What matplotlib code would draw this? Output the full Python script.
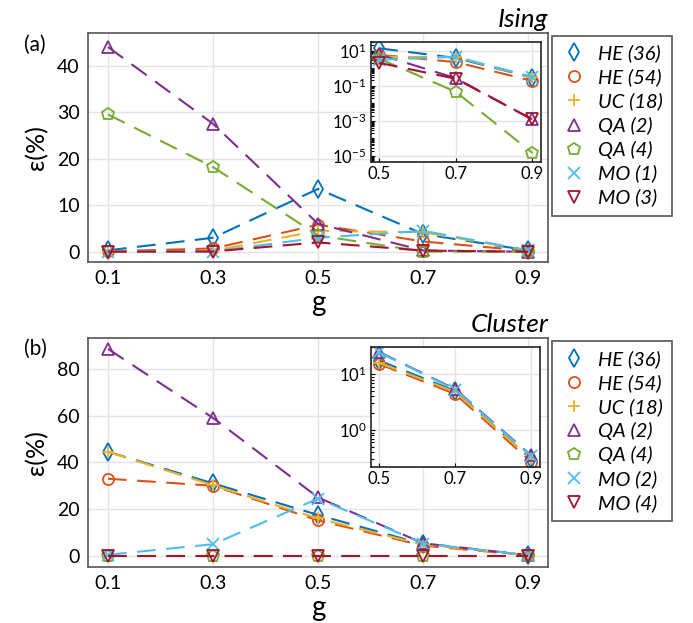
import numpy as np
import matplotlib
matplotlib.use("Agg")
import matplotlib.pyplot as plt
from matplotlib.ticker import LogLocator, NullFormatter, FixedLocator
from matplotlib.lines import Line2D

plt.rcParams["font.family"] = ["Lato", "DejaVu Sans"]
plt.rcParams["mathtext.fontset"] = "custom"
plt.rcParams["mathtext.rm"] = "Lato"
plt.rcParams["mathtext.it"] = "Lato:italic"

# Coupling values
g = [0.1, 0.3, 0.5, 0.7, 0.9]

# Ising model errors (%)
ising_he36 = [0.3, 3.0, 13.5, 3.8, 0.29]
ising_he54 = [0.1, 0.7, 5.8, 2.2, 0.19]
ising_uc18 = [0.05, 0.2, 4.5, 4.2, 0.3]
ising_qa2 = [44.0, 27.5, 6.0, 0.27, 0.0012]
ising_qa4 = [29.5, 18.2, 3.5, 0.045, 1.5e-5]
ising_mo1 = [0.02, 0.05, 3.0, 4.5, 0.32]
ising_mo3 = [0.02, 0.05, 2.0, 0.25, 0.0012]

# Cluster model errors (%)
cluster_he36 = [44.5, 31.0, 17.5, 5.0, 0.3]
cluster_he54 = [33.0, 30.0, 15.2, 4.4, 0.27]
cluster_uc18 = [44.5, 30.2, 16.0, 4.8, 0.3]
cluster_qa2 = [88.5, 59.0, 25.0, 5.4, 0.35]
cluster_qa4 = [0.0, 0.0, 0.0, 0.0, 0.0]
cluster_mo2 = [0.5, 5.0, 24.5, 5.3, 0.34]
cluster_mo4 = [0.0, 0.0, 0.0, 0.0, 0.0]

ising_labels = ["HE (36)", "HE (54)", "UC (18)", "QA (2)", "QA (4)", "MO (1)", "MO (3)"]
cluster_labels = ["HE (36)", "HE (54)", "UC (18)", "QA (2)", "QA (4)", "MO (2)", "MO (4)"]

colors = ["#0072BD", "#D95319", "#EDB120", "#7E2F8E", "#77AC30", "#4DBEEE", "#A2142F"]
markers = ["d", "o", "+", "^", "p", "x", "v"]
msizes = [9, 8, 9, 8, 9, 8, 8]

ising = [ising_he36, ising_he54, ising_uc18, ising_qa2, ising_qa4, ising_mo1, ising_mo3]
cluster = [cluster_he36, cluster_he54, cluster_uc18, cluster_qa2, cluster_qa4, cluster_mo2, cluster_mo4]

fig = plt.figure(figsize=(6.93, 6.23), dpi=100)

spine_col = "#555555"
grid_col = "#e3e3e3"


def style_axes(ax, fs):
    for s in ax.spines.values():
        s.set_color(spine_col)
        s.set_linewidth(1.2)
    ax.grid(True, color=grid_col, lw=1)
    ax.set_axisbelow(True)
    ax.tick_params(labelsize=fs, colors="black")


def draw_series(ax, data, log=False):
    x = np.array(g)
    for vals, c, m, ms in zip(data, colors, markers, msizes):
        v = np.array(vals, dtype=float)
        if log:
            keep = (x >= 0.5) & (v > 0)
            if not keep.any():
                continue
            xs, vs = x[keep], v[keep]
        else:
            xs, vs = x, v
        ax.plot(xs, vs, color=c, lw=1.5, dashes=(9, 5))
        ax.plot(xs, vs, ls="none", marker=m, ms=ms, mfc="none", mec=c, mew=1.3)


def panel(rect, inset_rect, data, labels, title, tag, ylim, yticks, inset_ylim, inset_major, legend_top):
    ax = fig.add_axes(rect)
    draw_series(ax, data)
    ax.set_xlim(0.062, 0.938)
    ax.set_ylim(*ylim)
    ax.set_xticks(g)
    ax.set_xticklabels(["0.1", "0.3", "0.5", "0.7", "0.9"])
    ax.set_yticks(yticks)
    style_axes(ax, 14)
    ax.tick_params(length=0, pad=6)
    ax.set_xlabel("g", fontsize=20, labelpad=2)
    ax.set_ylabel("ε(%)", fontsize=18, labelpad=6)
    ax.set_title(title, loc="right", fontsize=19, style="italic", pad=4)
    ax.text(-0.14, 0.95, tag, transform=ax.transAxes, fontsize=15, ha="left", va="center")

    ins = fig.add_axes(inset_rect)
    draw_series(ins, data, log=True)
    ins.set_yscale("log")
    ins.set_xlim(0.478, 0.923)
    ins.set_ylim(*inset_ylim)
    ins.set_xticks([0.5, 0.7, 0.9])
    ins.set_xticklabels(["0.5", "0.7", "0.9"])
    ins.yaxis.set_major_locator(FixedLocator(inset_major))
    ins.yaxis.set_minor_locator(LogLocator(base=10, subs="all", numticks=20))
    ins.yaxis.set_minor_formatter(NullFormatter())
    style_axes(ins, 12)
    ins.spines[:].set_color("#222222")
    ins.tick_params(which="both", direction="in", length=3, width=0.8, pad=3)
    ins.tick_params(which="minor", length=2)
    ins.patch.set_facecolor("white")

    handles = [Line2D([], [], ls="none", marker=m, ms=ms, mfc="none", mec=c, mew=1.3)
               for c, m, ms in zip(colors, markers, msizes)]
    leg = fig.legend(handles, labels, loc="upper left", bbox_to_anchor=(0.797, legend_top),
                     borderaxespad=0, fancybox=False, edgecolor=spine_col, framealpha=1,
                     prop={"style": "italic", "size": 14.5}, handletextpad=0.5,
                     labelspacing=0.3, borderpad=0.45, handlelength=1.3)
    leg.get_frame().set_linewidth(1.2)
    return ax


panel([0.127, 0.5795, 0.664, 0.3675], [0.535, 0.740, 0.246, 0.1926],
      ising, ising_labels, "Ising", "(a)", (-2.2, 47), [0, 10, 20, 30, 40],
      (10 ** -5.34, 10 ** 1.49), [1e-5, 1e-3, 1e-1, 1e1], 0.943)

panel([0.127, 0.0904, 0.664, 0.3676], [0.535, 0.2509, 0.244, 0.1926],
      cluster, cluster_labels, "Cluster", "(b)", (-4.6, 93.3), [0, 20, 40, 60, 80],
      (0.22, 31), [1e0, 1e1], 0.453)

fig.savefig("out.png", dpi=100)
